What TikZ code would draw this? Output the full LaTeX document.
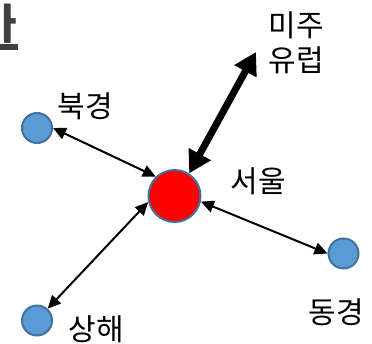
\documentclass[tikz,border=0pt]{standalone}
\usepackage{fontspec}
\newfontfamily\krfont{Noto Sans CJK KR}
\usetikzlibrary{positioning,arrows.meta}
\definecolor{cityblue}{HTML}{5B9BD5}
\definecolor{rimblue}{HTML}{41719C}
\definecolor{titlegray}{HTML}{404040}

\begin{document}
\begin{tikzpicture}[
    x=1pt, y=-1pt,
    city/.style={circle, draw=rimblue, line width=2pt, fill=cityblue, minimum size=30pt, inner sep=0pt},
    hub/.style={city, fill=red, minimum size=52pt},
    place/.style={font=\krfont\fontsize{30}{35}\selectfont, inner sep=0pt, align=center},
    title/.style={font=\krfont\bfseries\fontsize{42}{42}\selectfont, text=titlegray, inner sep=0pt},
    link/.style={{Triangle[length=13pt,width=12pt]}-{Triangle[length=13pt,width=12pt]}, line width=2pt},
    trunk/.style={{Triangle[length=22pt,width=24pt]}-{Triangle[length=22pt,width=24pt]}, line width=7pt},
]
\clip (0,0) rectangle (372,343);

% Title fragment (cut off at the edge)
\node[title, anchor=base west] (head) at (-22,39) {가};
\draw[titlegray, line width=6pt] (0,47) -- (18,47);

% Cities
\node[hub] (seoul) at (174.5,196) {};
\node[city] (beijing) at (37,128) {};
\node[city] (shanghai) at (37,320.5) {};
\node[city] (tokyo) at (343.5,253.5) {};
\coordinate (west) at (256,52);

% Labels
\node[place] (seoullbl) at (258,181) {서울};
\node[place] (beijinglbl) at (85,106) {북경};
\node[place] (shanghailbl) at (96,329) {상해};
\node[place] (tokyolbl) at (336,312) {동경};
\node[place] (westlbl) at (296,43) {미주\\유럽};

% Links
\draw[link] (beijing.0) -- (seoul.134);
\draw[link] (shanghai.48) -- (seoul.193);
\draw[link] (tokyo.180) -- (seoul.-12);
\draw[trunk] (seoul.57) -- (west);

\end{tikzpicture}
\end{document}
